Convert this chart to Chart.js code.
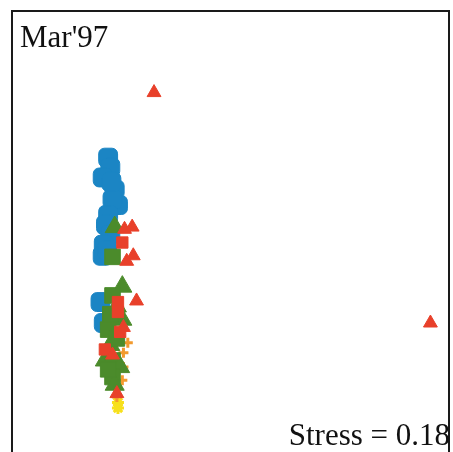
<!DOCTYPE html>
<html>
<head>
<meta charset="utf-8">
<script src="https://cdn.jsdelivr.net/npm/chart.js@4/dist/chart.umd.min.js"></script>
<style>
  html, body { margin: 0; padding: 0; background: #fff; overflow: hidden; }
  #wrap { position: relative; width: 453px; height: 452px; }
  .lbl { position: absolute; font-family: "Liberation Serif", "DejaVu Serif", serif; font-size: 31px; color: #111; line-height: 1; white-space: nowrap; }
</style>
</head>
<body>
<div id="wrap">
  <canvas id="mds" width="453" height="452"></canvas>
  <div class="lbl" id="title" style="left:20px; top:21px;">Mar'97</div>
  <div class="lbl" id="stress" style="right:3px; top:419px;">Stress = 0.18</div>
</div>
<script>
// MDS ordination, arbitrary units
const blueX = [-1.12, -1.10, -1.17, -1.06, -1.03, -1.08, -1.12, -1.14, -1.10, -1.16, -1.17, -1.19, -1.16, -1.09, -1.13];
const blueY = [0.67, 0.58, 0.49, 0.38, 0.24, 0.29, 0.15, 0.06, -0.03, -0.12, -0.22, -0.64, -0.83, 0.45, -0.17];

const redX = [-0.70, 1.83, -0.86, -0.97, -0.90, -0.99, -0.89, -0.95, -1.03, -1.03, -0.98, -1.01, -1.15, -1.08, -1.04];
const redY = [1.26, -0.83, -0.63, 0.02, 0.04, -0.10, -0.22, -0.27, -0.64, -0.73, -0.87, -0.91, -1.07, -1.12, -1.47];
const redShape = ['triangle', 'triangle', 'triangle', 'triangle', 'triangle', 'rect', 'triangle', 'triangle',
                  'rect', 'rect', 'triangle', 'rect', 'rect', 'triangle', 'triangle'];

const greenX = [-1.06, -1.08, -0.99, -1.08, -1.04, -0.99, -1.12, -1.10, -1.15, -1.08, -1.01, -1.08, -1.06, -1.04, -1.10, -1.12];
const greenY = [0.04, -0.23, -0.50, -0.58, -0.68, -0.80, -0.89, -1.03, -1.17, -1.17, -1.23, -1.32, -1.39, -0.97, -0.75, -1.25];
const greenShape = ['triangle', 'rect', 'triangle', 'rect', 'triangle', 'triangle', 'rect', 'triangle',
                    'triangle', 'rect', 'triangle', 'rect', 'triangle', 'rect', 'rect', 'rect'];

const orangeX = [-0.94, -0.98, -0.98, -0.99, -1.04];
const orangeY = [-1.01, -1.10, -1.23, -1.35, -1.50];

const yellowX = [-1.03, -1.03];
const yellowY = [-1.55, -1.60];

function pts(xs, ys) {
  return xs.map((x, i) => ({x: x, y: ys[i]}));
}

const frame = {
  id: 'frame',
  afterDraw(chart) {
    const a = chart.chartArea;
    const c = chart.ctx;
    c.save();
    c.strokeStyle = '#1a1a1a';
    c.lineWidth = 2;
    c.beginPath();
    c.moveTo(a.left, a.bottom + 5);
    c.lineTo(a.left, a.top);
    c.lineTo(a.right, a.top);
    c.lineTo(a.right, a.bottom + 5);
    c.stroke();
    c.restore();
  }
};

const ctx = document.getElementById('mds').getContext('2d');
const mdsChart = new Chart(ctx, {
  type: 'scatter',
  data: {
    datasets: [
      {
        label: 'red',
        data: pts(redX, redY),
        pointStyle: redShape,
        pointRadius: 8,
        backgroundColor: '#e8402a',
        borderColor: '#e8402a',
        borderWidth: 1
      },
      {
        label: 'green',
        data: pts(greenX, greenY),
        pointStyle: greenShape,
        pointRadius: 11,
        backgroundColor: '#4b8b2b',
        borderColor: '#4b8b2b',
        borderWidth: 1
      },
      {
        label: 'blue',
        data: pts(blueX, blueY),
        pointStyle: 'rectRounded',
        pointRadius: 11,
        backgroundColor: '#1b85c4',
        borderColor: '#1b85c4',
        borderWidth: 1
      },
      {
        label: 'orange',
        data: pts(orangeX, orangeY),
        pointStyle: 'cross',
        pointRadius: 5,
        borderColor: '#f29a2e',
        borderWidth: 3
      },
      {
        label: 'yellow',
        data: pts(yellowX, yellowY),
        pointStyle: 'star',
        pointRadius: 6,
        borderColor: '#f7e01c',
        backgroundColor: '#f7e01c',
        borderWidth: 3
      }
    ]
  },
  options: {
    responsive: false,
    animation: false,
    events: [],
    layout: { autoPadding: false, padding: { left: 12, top: 11, right: 4, bottom: 0 } },
    scales: {
      x: { type: 'linear', min: -2, max: 2, display: false },
      y: { type: 'linear', min: -2, max: 2, display: false }
    },
    plugins: {
      legend: { display: false },
      tooltip: { enabled: false }
    }
  },
  plugins: [frame]
});
</script>
</body>
</html>
